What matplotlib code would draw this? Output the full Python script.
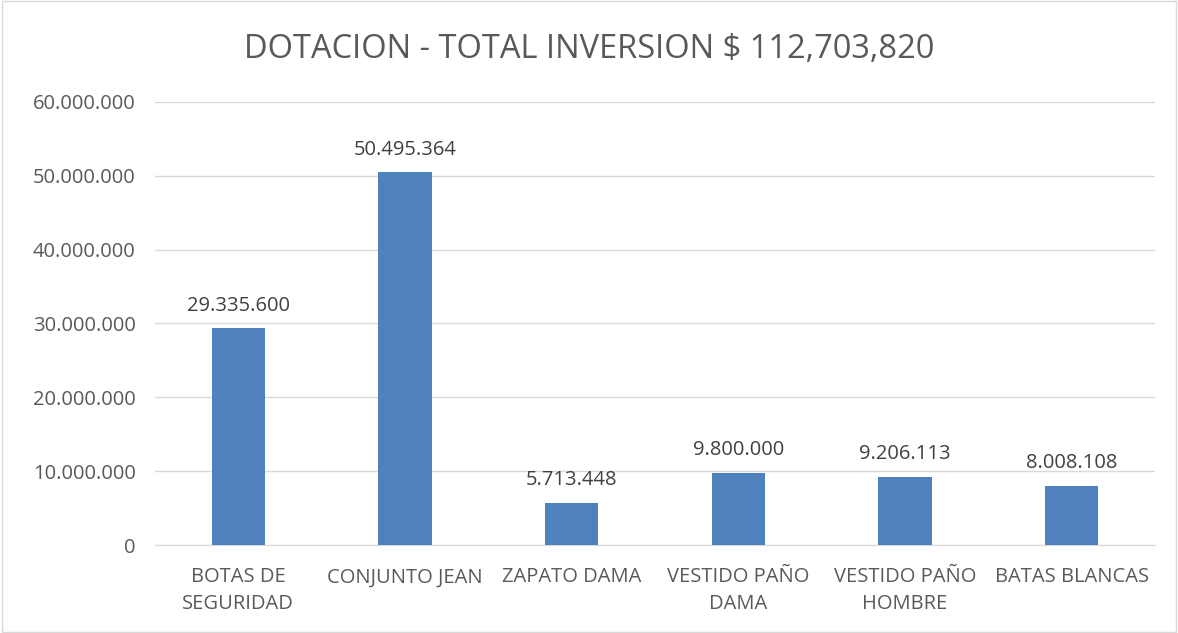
import matplotlib
matplotlib.use("Agg")
import matplotlib.pyplot as plt
from matplotlib.ticker import FuncFormatter, MultipleLocator
from matplotlib.patches import Rectangle

categories = ["BOTAS DE\nSEGURIDAD", "CONJUNTO JEAN", "ZAPATO DAMA",
              "VESTIDO PAÑO\nDAMA", "VESTIDO PAÑO\nHOMBRE", "BATAS BLANCAS"]
values = [29335600, 50495364, 5713448, 9800000, 9206113, 8008108]
title = "DOTACION - TOTAL INVERSION $ 112,703,820"

plt.rcParams['font.family'] = ['Open Sans', 'DejaVu Sans']

fig = plt.figure(figsize=(11.78, 6.33), dpi=100)
ax = fig.add_axes([0.1316, 0.139, 0.849, 0.700])

def fmt(v):
    return f"{int(round(v)):,}".replace(",", ".")

x = list(range(len(categories)))
bars = ax.bar(x, values, width=0.32, color="#4F81BD", zorder=3)
for xi, v in zip(x, values):
    ax.text(xi, v + 1700000, fmt(v), ha="center", va="bottom", fontsize=14.5, color="#404040")

ax.set_xlim(-0.5, len(categories) - 0.5)
ax.set_ylim(0, 60000000)
ax.yaxis.set_major_locator(MultipleLocator(10000000))
ax.yaxis.set_major_formatter(FuncFormatter(lambda v, p: fmt(v)))
ax.set_xticks(x)
ax.set_xticklabels(categories, fontsize=14.5, color="#595959", linespacing=1.45)
ax.tick_params(axis="y", labelsize=14.5, labelcolor="#595959", length=0, pad=14)
ax.tick_params(axis="x", length=0, pad=16)
ax.grid(axis="y", color="#D9D9D9", linewidth=1, zorder=0)
for s in ["top", "right", "left"]:
    ax.spines[s].set_visible(False)
ax.spines["bottom"].set_color("#D9D9D9")

fig.text(0.5, 0.922, title, ha="center", va="center", fontsize=23.5, color="#595959")
fig.patches.append(Rectangle((0.002, 0.002), 0.996, 0.996, transform=fig.transFigure,
                             fill=False, edgecolor="#D9D9D9", linewidth=1))

fig.savefig("out.png", dpi=100, facecolor="white")
